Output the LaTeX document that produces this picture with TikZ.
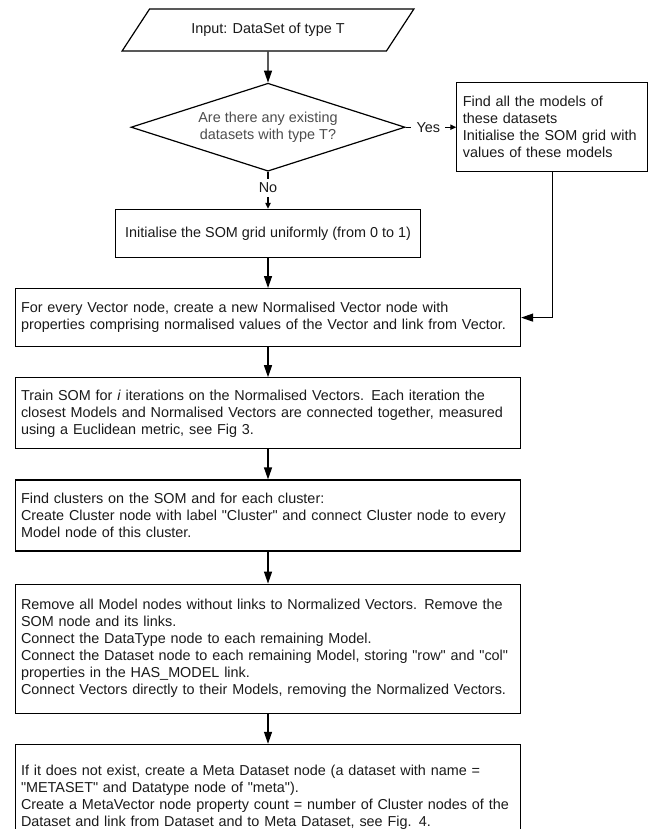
\documentclass[tikz,border=0pt]{standalone}
\usepackage{fontspec}
\setmainfont{Liberation Sans}
\usepackage{tikz}
\usetikzlibrary{shapes.geometric, arrows.meta, positioning}
\definecolor{inktext}{HTML}{1A1A1A}
\definecolor{asktext}{HTML}{4D4D4D}

\begin{document}
\begin{tikzpicture}[x=0.75pt, y=-0.75pt,
  every node/.style={font=\fontsize{10.8pt}{12.75pt}\selectfont, text=inktext},
  io/.style={trapezium, trapezium left angle=37, trapezium right angle=143,
             trapezium stretches=true, draw, line width=0.9pt,
             minimum width=219pt, minimum height=31.5pt, inner sep=0pt},
  decision/.style={diamond, aspect=3.1, draw, line width=0.9pt, minimum width=205.5pt,
             minimum height=66pt, inner sep=0pt, align=center, text=asktext},
  stepbox/.style={rectangle, draw, line width=0.9pt, minimum height=#1,
             text width=370.5pt, inner xsep=4.125pt, align=left},
  arr/.style={-{Triangle[length=9pt, width=6pt]}, line width=0.9pt},
  tip/.style={-{Triangle[length=4.5pt, width=4pt]}, line width=0.9pt},
  lbl/.style={fill=white, inner xsep=4pt, inner ysep=3pt},
]
\clip (0,0) rectangle (649,829);
\useasboundingbox (0,0) rectangle (649,829);
\node[io] (input) at (268,30) {Input: DataSet of type T};
\node[decision, below=23.25pt of input] (ask) {Are there any existing\\datasets with type T?};
\node[rectangle, draw, line width=0.9pt, right=38pt of ask, minimum height=66.75pt,
      text width=134.25pt, inner xsep=4.5pt, align=left] (seed) {Find all the models of\\these datasets\\Initialise the SOM grid with\\values of these models};
\node[rectangle, draw, line width=0.9pt, below=27.75pt of ask, minimum width=228.75pt,
      minimum height=36pt] (uniform) {Initialise the SOM grid uniformly (from 0 to 1)};
\node[stepbox=43.5pt, below=22.5pt of uniform] (norm) {For every Vector node, create a new Normalised Vector node with\\properties comprising normalised values of the Vector and link from Vector.};
\node[stepbox=53.25pt, below=22.5pt of norm] (train) {Train SOM for \textit{i} iterations on the Normalised Vectors. Each iteration the\\closest Models and Normalised Vectors are connected together, measured\\using a Euclidean metric, see Fig 3.};
\node[stepbox=53.25pt, below=22.5pt of train] (clusters) {Find clusters on the SOM and for each cluster:\\Create Cluster node with label \textquotedbl Cluster\textquotedbl{} and connect Cluster node to every\\Model node of this cluster.};
\node[stepbox=96.75pt, below=24pt of clusters] (prune) {Remove all Model nodes without links to Normalized Vectors. Remove the\\SOM node and its links.\\Connect the DataType node to each remaining Model.\\Connect the Dataset node to each remaining Model, storing \textquotedbl row\textquotedbl{} and \textquotedbl col\textquotedbl\\properties in the HAS\_MODEL link.\\Connect Vectors directly to their Models, removing the Normalized Vectors.};
\node[stepbox=80pt, below=22.5pt of prune, inner ysep=12pt] (meta) {If it does not exist, create a Meta Dataset node (a dataset with name =\\\textquotedbl METASET\textquotedbl{} and Datatype node of \textquotedbl meta\textquotedbl).\\Create a MetaVector node property count = number of Cluster nodes of the\\Dataset and link from Dataset and to Meta Dataset, see Fig. 4.};
\draw[arr] (input) -- (ask);
\draw[tip] (ask.east) -- node[lbl, pos=0.45]{Yes} (seed.west);
\draw[tip] (ask.south) -- node[lbl, pos=0.43]{No} (uniform.north);
\draw[arr] (seed.south) |- (norm.east);
\draw[arr] (uniform) -- (norm);
\draw[arr] (norm) -- (train);
\draw[arr] (train) -- (clusters);
\draw[arr] (clusters) -- (prune);
\draw[arr] (prune) -- (meta);
\end{tikzpicture}
\end{document}
